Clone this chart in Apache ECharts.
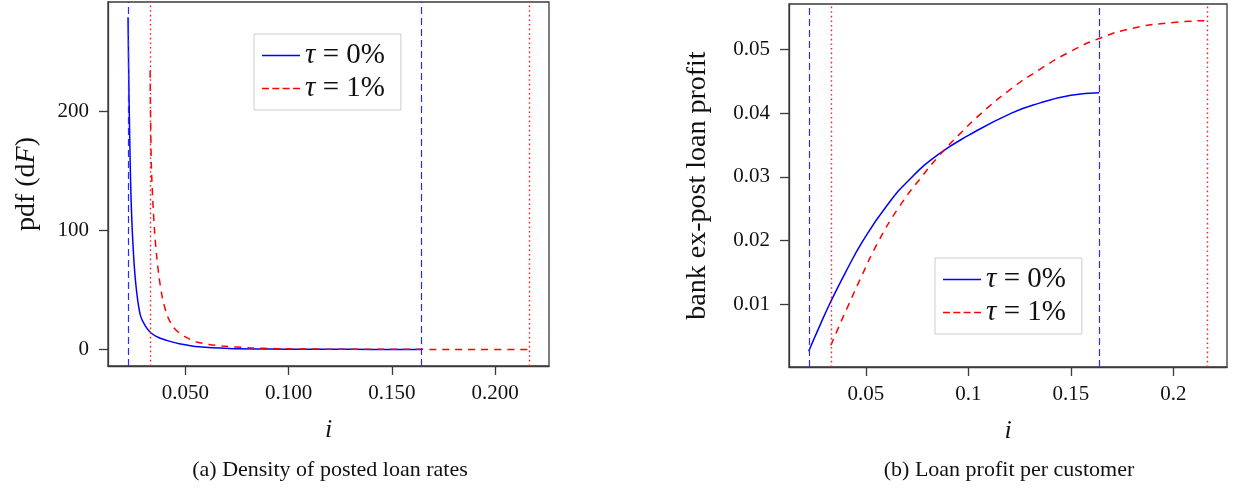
<!DOCTYPE html>
<html><head><meta charset="utf-8">
<script src="https://cdn.jsdelivr.net/npm/echarts@6/dist/echarts.min.js"></script>
<style>html,body{margin:0;padding:0;background:#fff}#c{width:1235px;height:497px}</style>
</head><body><div id="c"></div>
<script>
// ---- data ----
const seriesNames = ['τ = 0%', 'τ = 1%'];
// (a) density of posted loan rates
const pdfRate0 = [0.0222,0.0224,0.0227,0.0230,0.0233,0.0237,0.0243,0.0250,0.0259,0.0270,0.0283,0.0305,0.0332,0.0370,0.0421,0.0470,0.0566,0.0712,0.090,0.110,0.130,0.150,0.164];
const pdfVal0  = [279,250,210,180,152,125,98,76,56,40,28,20,14,10,7,4.8,2.2,0.8,0.35,0.15,0.08,0.04,0.03];
const pdfRate1 = [0.0329,0.0331,0.0335,0.0342,0.0351,0.0360,0.0372,0.0390,0.0413,0.0440,0.0469,0.0500,0.0550,0.0615,0.0680,0.0809,0.0955,0.120,0.150,0.180,0.2164];
const pdfVal1  = [234,200,154,125,98,80,61,42,28,19,14,10.5,6.4,4.2,2.8,1.4,0.6,0.25,0.1,0.05,0.02];
// (b) loan profit per customer
const profRate0 = [0.0221,0.027,0.0322,0.040,0.0486,0.060,0.0719,0.0857,0.100,0.121,0.135,0.150,0.1638];
const profVal0  = [0.00268,0.0063,0.0100,0.0150,0.0200,0.0254,0.0298,0.0336,0.0365,0.0400,0.0416,0.0428,0.0432];
const profRate1 = [0.0329,0.0365,0.0408,0.048,0.0555,0.066,0.0779,0.0857,0.096,0.1064,0.120,0.135,0.150,0.1638,0.180,0.200,0.2164];
const profVal1  = [0.0036,0.0063,0.0094,0.0145,0.0195,0.0252,0.0303,0.0333,0.0368,0.0400,0.0436,0.0469,0.0497,0.0517,0.0533,0.0542,0.0545];
// vertical reference lines (support bounds)
const bounds0 = [0.0222, 0.164];
const bounds1 = [0.0329, 0.2164];
// ticks
const xTicks = [0.05, 0.10, 0.15, 0.20];
const pdfTicks = [0, 100, 200];
const profTicks = [0.01, 0.02, 0.03, 0.04, 0.05];
const captions = ['(a) Density of posted loan rates', '(b) Loan profit per customer'];

const zip = (a, b) => a.map((v, k) => [v, b[k]]);
const FONT = '"Liberation Serif", "DejaVu Serif", serif';
const BLUE = '#0000ff', RED = '#ff0000';
const AX = '#3a3a3a';
const ICON_SOLID = 'path://M0,0h38v1.5h-38z';
const ICON_DASH = 'path://M0,0h7v1.5h-7zM10.3,0h7v1.5h-7zM20.6,0h7v1.5h-7zM31,0h7v1.5h-7z';

function xAxis(idx, fmt) {
  return {
    type: 'value', gridIndex: idx, min: 0.0125, max: 0.2261,
    name: 'i', nameLocation: 'middle', nameGap: 51,
    nameTextStyle: { fontFamily: FONT, fontStyle: 'italic', fontSize: 26, color: '#111' },
    axisLine: { show: true, onZero: false, lineStyle: { color: AX, width: 1.3 } },
    axisTick: { show: true, length: 9, customValues: xTicks, lineStyle: { color: AX, width: 1.3 } },
    axisLabel: { customValues: xTicks, formatter: fmt, fontFamily: FONT, fontSize: 21, color: '#111', margin: 17 },
    splitLine: { show: false }
  };
}
function yAxis(idx, min, max, ticks, fmt, name, gap) {
  return {
    type: 'value', gridIndex: idx, min: min, max: max,
    name: name, nameLocation: 'middle', nameGap: gap, nameRotate: 90,
    nameTextStyle: { fontFamily: FONT, fontSize: 28, color: '#111', rich: { it: { fontFamily: FONT, fontStyle: 'italic', fontSize: 28, color: '#111' }, r: { fontFamily: FONT, fontSize: 28, color: '#111' } } },
    axisLine: { show: true, onZero: false, lineStyle: { color: AX, width: 1.3 } },
    axisTick: { show: true, length: 9, customValues: ticks, lineStyle: { color: AX, width: 1.3 } },
    axisLabel: { customValues: ticks, formatter: fmt, fontFamily: FONT, fontSize: 21, color: '#111', margin: 19 },
    splitLine: { show: false }
  };
}
function vlines(vals, color, type, w) {
  return {
    silent: true, symbol: 'none', precision: 5, label: { show: false },
    lineStyle: { color: color, type: type, width: w, opacity: 1 },
    emphasis: { disabled: true },
    data: vals.map(v => ({ xAxis: v }))
  };
}
function legend(left, top) {
  return {
    orient: 'vertical', left: left, top: top,
    data: [ { name: seriesNames[0], icon: ICON_SOLID }, { name: seriesNames[1], icon: ICON_DASH } ],
    borderColor: '#cccccc', borderWidth: 1, backgroundColor: '#fff', borderRadius: 0,
    padding: [7, 16, 7, 8], itemGap: 4, itemWidth: 38, itemHeight: 1.6,
    textStyle: { fontFamily: FONT, fontSize: 29, color: '#111', lineHeight: 29,
      rich: { t: { fontFamily: FONT, fontStyle: 'italic', fontSize: 29, color: '#111', lineHeight: 29 }, n: { fontFamily: FONT, fontSize: 29, color: '#111', lineHeight: 29 } } },
    formatter: n => '{t|τ}{n| ' + n.slice(2) + '}',
    selectedMode: false
  };
}

const chart = echarts.init(document.getElementById('c'), null, { renderer: 'canvas' });
chart.setOption({
  animation: false,
  backgroundColor: '#fff',
  grid: [
    { left: 108, top: 2, width: 441, height: 364, show: true, borderColor: AX, borderWidth: 1.3, backgroundColor: 'transparent' },
    { left: 789, top: 4, width: 438, height: 363, show: true, borderColor: AX, borderWidth: 1.3, backgroundColor: 'transparent' }
  ],
  xAxis: [ xAxis(0, v => v.toFixed(3)), xAxis(1, v => String(+v.toFixed(2))) ],
  yAxis: [
    yAxis(0, -13.9, 291.9, pdfTicks, v => String(v), '{r|pdf (d}{it|F}{r|)}', 67),
    yAxis(1, 0.0002, 0.0571, profTicks, v => v.toFixed(2), 'bank ex-post loan profit', 77)
  ],
  legend: [ legend(254, 34), legend(935, 258) ],
  graphic: [
    { type: 'text', x: 330, y: 470, style: { text: captions[0], font: '22px ' + FONT, fill: '#111', align: 'center', verticalAlign: 'middle' } },
    { type: 'text', x: 1009, y: 470, style: { text: captions[1], font: '22px ' + FONT, fill: '#111', align: 'center', verticalAlign: 'middle' } }
  ],
  series: [
    { name: seriesNames[0], type: 'line', xAxisIndex: 0, yAxisIndex: 0, data: zip(pdfRate0, pdfVal0), showSymbol: false, symbol: 'none', smooth: 0.25,
      lineStyle: { color: BLUE, width: 1.5 }, itemStyle: { color: BLUE }, markLine: vlines(bounds0, '#2a2aff', [7, 4], 1.2) },
    { name: seriesNames[1], type: 'line', xAxisIndex: 0, yAxisIndex: 0, data: zip(pdfRate1, pdfVal1), showSymbol: false, symbol: 'none', smooth: 0.25,
      lineStyle: { color: RED, width: 1.5, type: [7, 6] }, itemStyle: { color: RED }, markLine: vlines(bounds1, '#ff2020', [1.6, 3], 1.4) },
    { name: seriesNames[0], type: 'line', xAxisIndex: 1, yAxisIndex: 1, data: zip(profRate0, profVal0), showSymbol: false, symbol: 'none', smooth: 0.5,
      lineStyle: { color: BLUE, width: 1.5 }, itemStyle: { color: BLUE }, markLine: vlines(bounds0, '#2a2aff', [7, 4], 1.2) },
    { name: seriesNames[1], type: 'line', xAxisIndex: 1, yAxisIndex: 1, data: zip(profRate1, profVal1), showSymbol: false, symbol: 'none', smooth: 0.5,
      lineStyle: { color: RED, width: 1.5, type: [7, 6] }, itemStyle: { color: RED }, markLine: vlines(bounds1, '#ff2020', [1.6, 3], 1.4) }
  ]
});
</script></body></html>
